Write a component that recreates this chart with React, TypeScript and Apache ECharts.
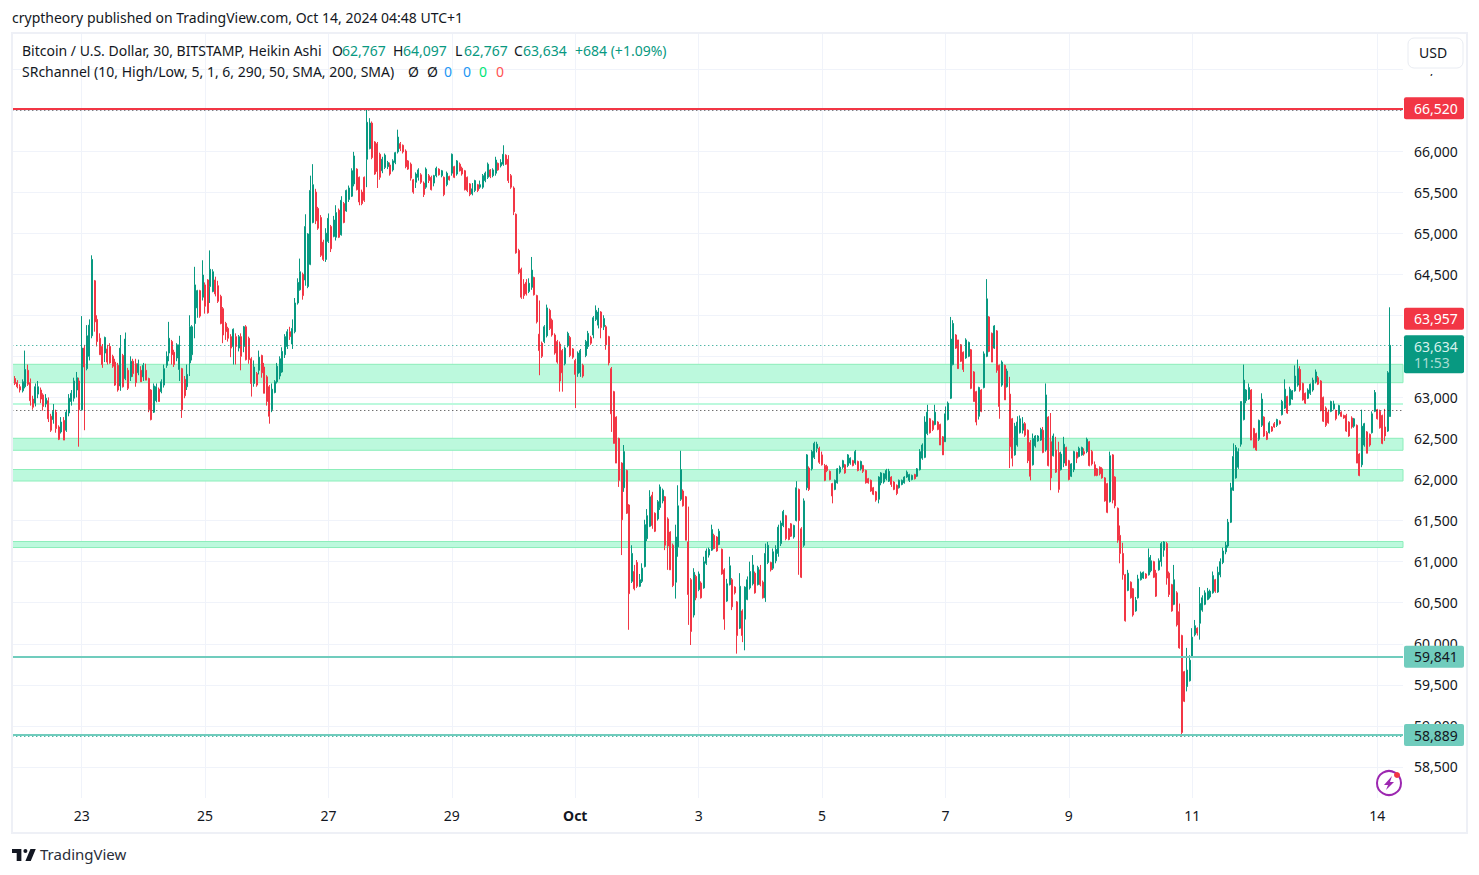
import React, { useEffect, useRef } from "react";
import * as echarts from "echarts";

const FONT = '"Noto Sans", sans-serif';
const UP = "#089981";
const DOWN = "#F23645";
const TEXT = "#131722";
const GRID = "#F0F3FA";

// Each candle: [open, close, low, high]
const sep21to22 = [[63230,63170,63150,63260],[63180,63130,63110,63210],[63130,63090,63060,63160],[63080,63190,63060,63220],[63130,63340,63110,63570],[63330,63160,63140,63400],[63180,62960,62900,63230],[62980,62880,62850,63020],[62930,63130,62890,63170],[63040,63130,62990,63200],[63090,62980,62930,63120],[63030,62890,62840,63050],[62920,62990,62880,63040],[62960,62740,62700,63000],[62770,62600,62580,62800],[62730,62830,62680,62920],[62820,62620,62570,62850],[62640,62490,62480,62660],[62580,62700,62560,62760],[62720,62480,62480,62760],[62600,62820,62580,62850],[62810,62990,62770,63040],[62950,63050,62900,63090],[62990,63200,62950,63240],[63090,63240,63000,63310],[63200,62850,62400,63240],[62850,63600,62840,63990]];
const sep23to24 = [[63600,63370,62600,63640],[63350,63750,63330,63880],[63500,63880,63450,63950],[63750,64680,63720,64730],[64420,63920,63800,64430],[63950,63680,63620,64000],[63720,63520,63520,63780],[63620,63400,63360,63650],[63540,63730,63430,63740],[63590,63430,63400,63640],[63620,63420,63410,63660],[63500,63380,63360,63520],[63430,63150,63140,63470],[63390,63090,63070,63420],[63140,63600,63080,63760],[63510,63130,63120,63530],[63230,63710,63210,63790],[63330,63110,63090,63360],[63250,63440,63200,63500],[63440,63290,63250,63470],[63410,63180,63130,63470],[63300,63410,63270,63460],[63330,63190,63190,63380],[63250,63390,63200,63420],[63330,63210,63210,63410],[63230,62850,62820,63240],[63090,62730,62720,63100],[62820,63140,62810,63170],[62960,63130,62940,63170],[63100,62950,62950,63120],[63070,63190,63050,63220],[63150,63350,63120,63400],[63390,63500,63360,63560],[63540,63720,63440,63920],[63680,63520,63400,63700],[63550,63400,63370,63580],[63480,63640,63440,63660],[63340,63640,63200,63750],[63350,62850,62750,63360],[63220,63020,62990,63260],[63130,63280,63090,63400],[63420,63860,63260,64000],[63520,63860,63450,63880],[63900,64370,63720,64590],[64090,64300,63970,64310],[64300,63990,63970,64310],[64220,64490,64180,64670],[64370,64110,64020,64400]];
const sep25to26 = [[64430,64030,64020,64440],[64350,64560,64150,64790],[64290,64530,64280,64560],[64430,64260,64230,64470],[64360,64170,64150,64420],[64230,63900,63890,64250],[64080,63760,63660,64100],[63900,63800,63700,63920],[63840,63720,63680,63860],[63740,63600,63490,63770],[63620,63830,63400,63840],[63740,63620,63400,63780],[63600,63740,63560,63760],[63740,63500,63330,63780],[63620,63860,63550,63870],[63860,63460,63450,63880],[63720,63460,63410,63740],[63470,63170,63010,63490],[63170,63370,63130,63450],[63290,63150,63130,63310],[63330,63490,63280,63570],[63510,63300,63240,63520],[63370,63050,63050,63420],[63250,62950,62900,63270],[63130,62770,62680,63150],[62850,63100,62820,63170],[63060,63190,63050,63210],[63190,63380,63170,63420],[63260,63470,63220,63500],[63310,63560,63300,63610],[63520,63740,63480,63770],[63620,63800,63590,63830],[63800,63740,63700,63860],[63650,63840,63590,63950],[63800,64150,63780,64210],[64150,64400,64130,64450],[64310,64530,64300,64690],[64500,64240,64190,64520],[64430,65080,64360,65230],[64350,64990,64330,65000],[64620,65520,64610,65700],[65130,65590,65120,65840],[65500,65150,65110,65540],[65300,65060,65040,65320],[65190,64730,64710,65220],[64890,64680,64660,64920],[64680,65000,64650,65060],[64900,65180,64880,65240]];
const sep27to28 = [[65080,64810,64770,65100],[64960,65160,64950,65210],[64950,65250,64910,65340],[65280,64950,64940,65300],[64980,65400,64970,65450],[65360,65130,65120,65380],[65270,65520,65260,65530],[65410,65550,65380,65580],[65450,65760,65440,65790],[65600,65940,65570,65990],[65780,65530,65520,65790],[65680,65380,65340,65690],[65500,65360,65340,65530],[65680,65400,65380,65690],[65900,66350,65560,66500],[66030,66340,66020,66400],[66340,65920,65900,66360],[66110,65720,65710,66120],[66090,65750,65550,66110],[65960,65680,65650,65980],[65760,65900,65730,65930],[65800,65950,65780,65970],[65810,65860,65780,65880],[65830,65720,65700,65860],[65770,65880,65750,65900],[65860,65980,65840,65990],[65990,66170,65970,66260],[66090,66030,66000,66110],[66070,65990,65970,66080],[66000,65810,65790,66020],[65880,65780,65770,65890],[65840,65670,65640,65860],[65650,65500,65480,65660],[65620,65720,65550,65740],[65680,65770,65640,65790],[65710,65620,65600,65730],[65610,65470,65440,65630],[65560,65780,65540,65800],[65700,65640,65610,65720],[65680,65530,65520,65700],[65610,65700,65570,65710],[65700,65790,65680,65810],[65780,65710,65700,65790],[65700,65760,65680,65770],[65680,65470,65450,65690],[65590,65730,65570,65750],[65690,65650,65640,65700],[65730,65960,65700,65970]];
const sep29to30 = [[65810,65680,65670,65820],[65720,65880,65700,65890],[65840,65760,65750,65860],[65790,65720,65700,65810],[65760,65530,65520,65770],[65680,65520,65500,65690],[65600,65470,65450,65610],[65480,65540,65460,65610],[65520,65640,65500,65650],[65590,65520,65500,65600],[65560,65590,65540,65640],[65560,65700,65540,65720],[65640,65730,65620,65750],[65680,65840,65660,65860],[65770,65690,65670,65780],[65700,65770,65680,65790],[65730,65890,65700,65930],[65850,65770,65760,65860],[65820,65860,65800,65900],[65840,65960,65820,66070],[65950,65840,65830,65960],[65900,65640,65610,65950],[65700,65560,65540,65720],[65550,65260,65220,65570],[65230,64760,64750,65240],[64790,64520,64500,64810],[64560,64220,64200,64580],[64380,64240,64200,64440],[64400,64260,64240,64440],[64290,64390,64270,64450],[64340,64550,64310,64710],[64460,64250,64240,64470],[64240,63920,63900,64250],[63770,63570,63270,64180],[63660,63500,63480,63680],[63680,63860,63660,63880],[63750,64090,63730,64130],[64060,63840,63820,64080],[63940,63760,63740,63960],[63760,63540,63520,63780],[63680,63430,63410,63700],[63650,63200,63070,63680],[63570,63300,63070,63590],[63410,63600,63390,63620],[63630,63780,63610,63800],[63730,63510,63490,63750],[63590,63490,63470,63600]];
const oct1to2 = [[63450,63280,62870,63470],[63290,63540,63250,63560],[63300,63570,63250,63590],[63390,63260,63240,63410],[63510,63680,63490,63700],[63620,63780,63590,63810],[63730,63660,63640,63750],[63760,63970,63720,63990],[63950,64060,63930,64120],[63880,64040,63840,64090],[64040,63850,63720,64050],[63860,63960,63820,64000],[63860,63640,63580,63880],[63740,63420,63390,63750],[63350,62800,62580,63370],[63070,62440,62440,63080],[62760,62200,62200,62770],[62500,61990,61910,62510],[62200,61510,61080,62210],[61900,62340,61850,62420],[62110,61590,61580,62120],[61690,60610,60170,61700],[60760,61100,60740,61200],[60880,60670,60650,60960],[60990,60700,60680,61020],[60700,60780,60690,60850],[60760,60920,60740,60980],[60940,61450,60930,61510],[61280,61560,61250,61640],[61430,61790,61420,61870],[61810,61440,61400,61850],[61590,61370,61360,61600],[61520,61730,61500,61750],[61660,61910,61630,61940],[61740,61870,61710,61890],[61790,61200,61140,61800],[61520,61190,60900,61540],[61360,60900,60900,61370],[61200,60710,60690,61220],[60750,61300,60550,61450],[61180,61680,61060,61930],[61760,62120,61740,62350],[61860,61680,61670,61880],[61790,61260,61260,61800],[61240,60600,60230,61670],[60780,60150,59985,60800],[60350,60870,60320,60920],[60820,60560,60530,60840]];
const oct3to4 = [[60660,60850,60640,60880],[60740,60560,60550,60760],[60680,61000,60670,61060],[60980,61130,60960,61160],[61080,61150,61050,61170],[61140,61390,61130,61450],[61320,61160,61150,61340],[61300,61130,61120,61310],[61210,61370,61200,61400],[61150,60850,60840,61160],[60900,60300,60170,60920],[60520,60730,60510,60790],[60720,60950,60710,61060],[60780,60450,60410,60800],[60690,60620,60600,60700],[60510,60100,59880,60520],[60190,60700,60180,60860],[60400,60100,60020,60420],[60300,60690,59920,60700],[60540,60780,60530,60820],[60680,60880,60660,61000],[60730,60960,60710,61080],[60860,60620,60610,60880],[60720,60930,60710,60950],[60900,60720,60700,60960],[60750,60560,60550,60770],[60560,61100,60510,61220],[60990,61200,60970,61240],[60990,60900,60880,61000],[60920,61120,60900,61160],[61010,61150,60980,61200],[61100,61420,61060,61450],[61220,61470,61190,61500],[61440,61610,61420,61630],[61560,61280,61260,61570],[61400,61270,61260,61410],[61460,61310,61300,61470],[61300,61440,61280,61450],[61500,61900,61490,61980],[61880,61500,60840,61890],[61400,60810,60800,61420],[61200,61740,61180,61770],[61900,62300,61870,62310],[62140,61880,61860,62160],[62130,62340,62110,62360],[62270,62440,62250,62460],[62380,62430,62330,62460],[62380,62210,62190,62400]];
const oct5to6 = [[62300,62180,62170,62340],[62170,61990,61980,62190],[62160,62110,62090,62180],[62100,62000,61990,62110],[61950,61800,61710,61960],[61880,61990,61870,62000],[61960,62130,61950,62140],[62090,62150,62070,62170],[62150,62230,62130,62240],[62180,62080,62070,62190],[62170,62300,62150,62310],[62200,62260,62180,62270],[62230,62170,62160,62240],[62200,62340,62180,62360],[62220,62110,62100,62230],[62130,62220,62110,62230],[62170,62100,62080,62180],[62110,61960,61950,62120],[62010,61960,61950,62020],[61990,61860,61850,62000],[61900,61820,61810,61910],[61850,61750,61730,61860],[61760,62030,61710,62040],[61960,62080,61930,62090],[61970,62070,61950,62080],[62010,62110,61990,62130],[61980,62100,61970,62130],[62030,61940,61910,62040],[61970,61880,61870,61980],[61930,61830,61810,61940],[61900,61990,61890,62000],[61940,61990,61930,62000],[61960,62030,61950,62040],[62030,62090,62020,62110],[61990,62060,61970,62070],[62000,62050,61990,62060],[62060,62010,62000,62070],[62040,62130,62030,62140],[62120,62340,62110,62370],[62260,62420,62240,62440],[62270,62700,62260,62770],[62560,62820,62540,62910],[62740,62570,62560,62750],[62710,62610,62590,62720],[62670,62820,62660,62910],[62700,62610,62600,62710],[62670,62420,62420,62680],[62520,62300,62300,62530],[62460,62800,62460,62890]];
const oct7to8 = [[62730,62930,62720,62950],[62990,63710,62980,63980],[63400,63900,63390,63940],[63760,63600,63590,63770],[63700,63350,63350,63700],[63640,63440,63430,63650],[63550,63340,63310,63560],[63480,63700,63470,63720],[63500,63670,63490,63680],[63580,63110,63100,63590],[63310,62950,62950,63320],[63070,62700,62660,63080],[62770,63120,62730,63130],[63090,62830,62820,63100],[63120,63530,63110,63560],[63500,64200,63490,64440],[63980,63560,63550,63990],[63780,63430,63430,63790],[63600,63870,63590,63880],[63810,63330,63300,63820],[63390,62890,62740,63400],[63150,63430,63130,63450],[63390,62970,62970,63400],[63130,63320,63120,63350],[63040,62400,62140,63250],[62740,62260,62160,62750],[62300,62650,62290,62690],[62420,62700,62400,62770],[62570,62740,62560,62780],[62600,62680,62560,62760],[62680,62540,62520,62700],[62600,62230,62200,62610],[62450,62040,61990,62480],[62180,62500,62170,62560],[62410,62530,62390,62540],[62470,62530,62460,62540],[62480,62610,62470,62630],[62600,62330,62320,62640],[62360,63030,62340,63170],[62760,62170,62160,62770],[62460,62020,61870,62810],[62290,62530,62280,62560],[62360,62090,62080,62520],[62330,61880,61840,62460],[62120,62310,62110,62340],[62200,62430,62150,62520],[62390,62170,62170,62400],[62230,62000,61990,62240]];
const oct9to10 = [[62040,62190,62030,62200],[62120,62340,62090,62350],[62330,62260,62200,62340],[62280,62380,62270,62400],[62300,62390,62290,62400],[62340,62310,62290,62380],[62340,62490,62320,62510],[62460,62170,62160,62470],[62340,62190,62170,62360],[62180,62050,62040,62220],[62130,62050,62040,62140],[62150,62070,62050,62160],[62130,62020,62010,62150],[62020,61740,61730,62030],[61950,61600,61590,61960],[61730,62290,61720,62340],[62300,61750,61710,62310],[62030,61680,61650,62040],[61650,61260,61230,61660],[61320,61100,60980,61440],[61100,60840,60780,61230],[60840,60280,60270,60850],[60650,60860,60640,60900],[60750,60560,60550,60760],[60670,60350,60330,60680],[60400,60530,60390,60570],[60560,60790,60550,60840],[60780,60860,60770,60880],[60800,60870,60790,60880],[60850,60800,60790,60860],[60840,61050,60830,61160],[60890,61010,60870,61080],[61000,60810,60800,61010],[60860,60580,60570,60900],[60900,61010,60890,61040],[61000,61220,60940,61240],[61140,61240,61060,61250],[61220,60800,60720,61240],[60860,60600,60570,60880],[60720,60400,60390,60730],[60480,60780,60470,60960],[60620,60230,60210,60640],[60390,59950,59940,60490],[60100,58920,58870,60110],[59660,59300,59290,59670],[59480,59680,59420,59950],[59550,59800,59540,59860],[59850,60080,59840,60190]];
const oct11to12 = [[60110,60220,60090,60290],[60190,60130,60100,60200],[60250,60490,60050,60690],[60410,60560,60390,60590],[60480,60620,60470,60650],[60540,60640,60530,60680],[60570,60640,60550,60660],[60620,60830,60610,60880],[60780,60640,60620,60790],[60630,60870,60620,60940],[60840,61000,60810,61040],[60990,61130,60970,61170],[61120,61200,61090,61240],[61190,61480,61170,61520],[61480,61900,61470,61960],[61870,62280,61860,62440],[62020,62390,62010,62420],[62150,62340,62130,62380],[62430,62950,62400,62950],[62730,63210,62720,63400],[62960,63090,62930,63100],[62980,63120,62970,63170],[63090,62480,62480,63100],[62620,62390,62380,62630],[62560,62360,62350,62570],[62490,62720,62470,62730],[62660,62980,62640,63050],[62760,62530,62520,62770],[62570,62490,62480,62590],[62570,62690,62560,62710],[62640,62590,62580,62650],[62680,62640,62630,62700],[62660,62730,62640,62740],[62710,62680,62670,62720],[62790,62950,62780,62970],[62870,63100,62860,63220],[63010,62810,62800,63020],[62910,63100,62900,63130],[62980,63080,62970,63090],[63080,63260,63070,63390],[63150,63350,63130,63460],[63340,63090,63070,63380],[63170,62970,62960,63180],[63050,62930,62920,63060],[62990,63090,62980,63110],[63050,63160,63030,63170],[63090,63210,63070,63240],[63190,63310,63170,63340]];
const oct13to14 = [[63240,63160,63150,63260],[63200,62840,62830,63210],[63000,62710,62700,63010],[62870,62660,62640,62890],[62820,62690,62680,62850],[62830,62950,62820,62960],[62860,62920,62850,62960],[62840,62740,62720,62850],[62800,62900,62780,62910],[62820,62770,62760,62830],[62780,62750,62740,62790],[62780,62590,62580,62800],[62700,62530,62520,62710],[62750,62640,62620,62770],[62650,62740,62630,62750],[62660,62200,62200,62670],[62310,62050,62040,62320],[62180,62650,62150,62850],[62420,62680,62400,62690],[62580,62320,62320,62590],[62550,62420,62400,62560],[62570,62800,62560,62830],[62830,63060,62820,63090],[62850,62740,62730,62860],[62830,62630,62620,62850],[62780,62440,62430,62790],[62640,62530,62470,62860],[62590,63300,62580,63320],[62767,63634,62767,64097]];

const candles = [sep21to22, sep23to24, sep25to26, sep27to28, sep29to30, oct1to2, oct3to4, oct5to6, oct7to8, oct9to10, oct11to12, oct13to14].flat();

const dayTicks: [number, string][] = [[27,"23"],[75,"25"],[123,"27"],[171,"29"],[219,"Oct"],[267,"3"],[315,"5"],[363,"7"],[411,"9"],[459,"11"],[531,"14"]];
const priceTicks = [58500,59000,59500,60000,60500,61000,61500,62000,62500,63000,63500,64000,64500,65000,65500,66000,66500,67000];
const zones = [[63403,63179],[62932,62907],[62502,62356],[62122,61982],[61245,61172]];
const legendLine1 = "Bitcoin / U.S. Dollar, 30, BITSTAMP, Heikin Ashi";
const legendLine2 = "SRchannel (10, High/Low, 5, 1, 6, 290, 50, SMA, 200, SMA)";
const ohlc: [string, string, number, number][] = [["O","62,767",332,342],["H","64,097",393,403],["L","62,767",455,464],["C","63,634",514,523]];
const srFlags: [string, string, number][] = [["Ø",TEXT,408],["Ø",TEXT,427],["0","#2196F3",444],["0","#2196F3",463],["0","#00E676",479],["0","#FF5252",496]];

const PAD = 1;
const CATEGORY_COUNT = 542;
const categories = Array.from({ length: CATEGORY_COUNT }, (_, i) => String(i));
const tickMap = new Map(dayTicks);

const fmt = (v: number) => v.toLocaleString("en-US");

const tag = (value: number, bg: string, fg: string, text: string, line: boolean, lineColor = bg, offset: number[] = [0, 0]) => ({
  yAxis: value,
  lineStyle: { color: line ? lineColor : "rgba(0,0,0,0)", width: line ? 2 : 1, type: "solid" },
  label: {
    show: true, position: "end", distance: 1, offset, formatter: text,
    backgroundColor: bg, color: fg, fontFamily: FONT, fontSize: 14, borderRadius: 2,
    padding: [3, 6, 3, 10], width: 44, lineHeight: 16, align: "left",
  },
});
const dotted = (value: number, color: string) => ({
  yAxis: value,
  lineStyle: { color, width: 1, type: [1, 3] },
  label: { show: false },
});

function text(x: number, y: number, t: string, fill = TEXT, fontSize = 14, extra: any = {}) {
  return { type: "text", x, y, z: 50, style: { text: t, fill, fontFamily: FONT, fontSize, textVerticalAlign: "middle", ...extra } };
}

export default function App() {
  const ref = useRef<HTMLDivElement>(null);
  useEffect(() => {
    const chart = echarts.init(ref.current!, null, { renderer: "svg" });
    echarts.graphic.registerShape("tvlogo", echarts.graphic.extendPath("M14 6H0v6h7v12h7V6Z M28 24h-8l7.5-18h8L28 24Z M23 9a3 3 0 1 1-6 0a3 3 0 0 1 6 0Z", {}) as any);
    chart.setOption({
      animation: false,
      backgroundColor: "#fff",
      grid: { left: 12.3, right: 76, top: 34, bottom: 77 },
      xAxis: {
        type: "category", data: categories, boundaryGap: false,
        axisLine: { show: false }, axisTick: { show: false },
        splitLine: { show: true, lineStyle: { color: GRID, width: 1 }, interval: (i: number) => tickMap.has(i) },
        axisLabel: {
          interval: (i: number) => tickMap.has(i), margin: 10,
          color: TEXT, fontFamily: FONT, fontSize: 14,
          formatter: (_: string, i: number) => {
            const t = tickMap.get(i) ?? "";
            return t === "Oct" ? "{b|Oct}" : t;
          },
          rich: { b: { fontWeight: "bold", fontFamily: FONT, fontSize: 14, color: TEXT } },
        },
      },
      yAxis: {
        type: "value", position: "right", min: 58122, max: 67425,
        axisLine: { show: false },
        axisTick: { show: false, customValues: priceTicks },
        splitLine: { show: true, lineStyle: { color: GRID, width: 1 } },
        axisLabel: { customValues: priceTicks, margin: 11, color: TEXT, fontFamily: FONT, fontSize: 14, padding: [0, 0, 2, 0], formatter: (v: number) => fmt(v) },
      },
      series: [{
        type: "candlestick",
        data: [...Array(PAD).fill("-"), ...candles],
        barWidth: 1.5,
        itemStyle: { color: UP, color0: DOWN, borderColor: UP, borderColor0: DOWN, borderWidth: 1 },
        silent: true,
        markArea: {
          silent: true,
          itemStyle: { color: "#BCF9DD", borderColor: "#8CEEBA", borderWidth: 1 },
          data: zones.map(([a, b]) => (b - a > -50
            ? [{ yAxis: a, itemStyle: { color: "#BCF9DD", borderWidth: 0 } }, { yAxis: b }]
            : [{ yAxis: a }, { yAxis: b }])),
        },
        markLine: {
          silent: true, symbol: "none", animation: false,
          data: [
            tag(66520, DOWN, "#fff", "66,520", true),
            dotted(66495, "#555"),
            tag(63957, DOWN, "#fff", "63,957", false),
            { ...tag(63634, UP, "#fff", "{a|63,634}\n{c|11:53}", false, UP, [0, 9]), lineStyle: { color: UP, width: 1, type: [1, 3] } },
            dotted(62843, "#333"),
            tag(59841, "#70CCBD", TEXT, "59,841", true),
            [{ xAxis: 273, yAxis: 59830, lineStyle: { color: "#70CCBD", width: 1 }, label: { show: false } }, { xAxis: 483, yAxis: 59830 }],
            tag(58889, "#70CCBD", TEXT, "58,889", true),
            dotted(58868, UP),
          ].map((d: any) => {
            if (d.label && d.label.formatter && d.label.formatter.includes("{a|")) {
              d.label.rich = {
                a: { color: "#D7F1EC", fontFamily: FONT, fontSize: 14, lineHeight: 16 },
                c: { color: "#A9DDD3", fontFamily: FONT, fontSize: 14, lineHeight: 16 },
              };
            }
            return d;
          }),
        },
      }],
      graphic: [
        { type: "rect", z: 40, shape: { x: 12, y: 33, width: 1455, height: 800 }, style: { fill: "none", stroke: "#EEF0F6", lineWidth: 2 }, silent: true },
        text(12, 17, "cryptheory published on TradingView.com, Oct 14, 2024 04:48 UTC+1"),
        text(22, 50, legendLine1),
        ...ohlc.flatMap(([k, v, kx, vx]) => [text(kx, 50, k), text(vx, 50, v, UP)]),
        text(575, 50, "+684 (+1.09%)", UP),
        text(22, 71, legendLine2),
        ...srFlags.map(([t, c, x]) => text(x, 71, t, c)),
        { type: "rect", z: 44, shape: { x: 1404, y: 36, width: 62, height: 38 }, style: { fill: "#fff" } },
        { type: "rect", z: 45, shape: { x: 1408, y: 38, width: 55, height: 30, r: 6 }, style: { fill: "#fff", stroke: "#E9ECF2", lineWidth: 1 } },
        text(1419, 52, "USD"),
        { type: "circle", z: 50, shape: { cx: 1389, cy: 783, r: 12 }, style: { fill: "none", stroke: "#9C27B0", lineWidth: 2 } },
        { type: "polygon", z: 50, shape: { points: [[1392,776],[1384,785],[1388,785],[1386,790],[1394,782],[1390,782]] }, style: { fill: "#9C27B0" } },
        { type: "circle", z: 51, shape: { cx: 1397, cy: 775, r: 3 }, style: { fill: "#F23645" } },
        { type: "tvlogo", z: 50, x: 12, y: 845, scaleX: 0.67, scaleY: 0.67, style: { fill: TEXT } },
        text(40, 854, "TradingView", "#2A2E39", 15),
      ],
    });
    return () => chart.dispose();
  }, []);
  return <div ref={ref} style={{ position: "fixed", left: 0, top: 0, width: 1479, height: 875 }} />;
}
